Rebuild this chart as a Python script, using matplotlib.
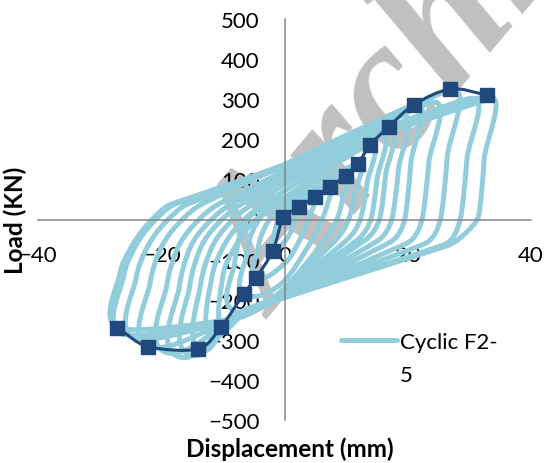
import numpy as np
import matplotlib
matplotlib.use("Agg")
import matplotlib.pyplot as plt
from matplotlib.path import Path
from matplotlib.patches import PathPatch
from matplotlib.lines import Line2D

# backbone (envelope) curve
env_x = [-27.1, -22.2, -14.0, -10.3, -6.6, -4.6, -1.9, -0.2, 2.4, 4.9, 7.4,
         9.9, 11.9, 13.9, 16.9, 21.0, 26.9, 32.8]
env_y = [-270, -317, -323, -268, -185, -145, -78, 5, 31, 56, 82,
         109, 138, 186, 231, 286, 325, 311]

# cyclic test, one row per cycle (peak +, unloading, peak -, reloading)
cyc_x = [0.0,
         2.4, 2.1, 1.5, 0.5, -1.9, -1.7, -1.2, 0.0,
         4.9, 4.5, 3.8, 2.5, 0.0, -4.6, -4.3, -3.5, -1.5,
         7.4, 7.0, 6.1, 4.5, -0.5, -6.6, -6.2, -5.2, -2.8,
         9.9, 9.4, 8.5, 6.6, -1.0, -8.5, -8.1, -7.0, -4.6,
         11.9, 11.4, 10.4, 8.4, -1.0, -6.0, -10.3, -9.9, -8.1, -5.3, -1.3,
         13.9, 13.4, 12.3, 10.2, -1.0, -7.0, -12.2, -11.8, -10.0, -7.2, -3.2,
         15.5, 15.0, 14.0, 11.9, -1.0, -8.0, -14.0, -13.6, -11.8, -9.0, -5.0,
         16.9, 16.4, 15.4, 13.2, -1.0, -8.0, -15.8, -15.4, -13.6, -10.8, -6.8,
         19.0, 18.5, 17.4, 15.2, -1.0, -8.0, -17.5, -17.1, -15.3, -12.5, -8.5,
         21.0, 20.5, 19.5, 17.3, -1.0, -8.0, -19.5, -19.1, -17.3, -14.5, -10.5,
         23.9, 23.4, 22.3, 20.0, -1.0, -8.0, -22.2, -21.8, -20.0, -17.2, -13.2,
         26.9, 26.4, 25.3, 22.8, -1.0, -8.0, -24.5, -24.1, -22.3, -19.5, -15.5,
         30.1, 29.6, 28.5, 26.0, -1.0, -8.0, -26.5, -26.1, -24.3, -21.5, -17.5,
         32.8, 32.4, 31.5, 29.3, 26.3, -1.0, -8.0, -27.1, -26.7, -24.9, -22.1, -18.1,
         33.0]
cyc_y = [0,
         31, 12, -10, -45, -78, -40, -10, 15,
         56, 25, 0, -50, -110, -145, -75, -30, 15,
         82, 40, 0, -50, -160, -185, -92, -30, 20,
         109, 50, 0, -50, -185, -225, -110, -30, 20,
         138, 65, 0, -50, -188, -225, -268, -134, -70, -10, 40,
         186, 90, 0, -50, -190, -235, -290, -145, -70, -10, 40,
         208, 100, 0, -50, -192, -238, -323, -162, -70, -10, 40,
         231, 110, 0, -50, -194, -240, -335, -168, -70, -10, 40,
         258, 125, 0, -52, -195, -242, -340, -170, -70, -10, 40,
         286, 140, 0, -55, -196, -243, -330, -165, -70, -10, 40,
         292, 140, 0, -58, -197, -243, -317, -158, -70, -10, 40,
         322, 155, 0, -60, -198, -245, -295, -148, -70, -10, 40,
         302, 150, 0, -62, -199, -246, -285, -142, -70, -10, 40,
         308, 150, 10, -35, -66, -200, -247, -270, -135, -70, -10, 40,
         300]

x_ticks = [-40, -20, 0, 20, 40]
y_ticks = [-500, -400, -300, -200, -100, 0, 100, 200, 300, 400, 500]

light = "#92cddc"
dark = "#1f497d"

# px per data unit, used so the smoothing doesn't depend on axis scale
SX = 493 / 80
SY = 401 / 1000


def smooth(xs, ys, k=0.35):
    # smoothed line through the points, tangents clamped so it doesn't overshoot
    p = np.column_stack([np.asarray(xs) * SX, np.asarray(ys) * SY])
    n = len(p)
    tang = []
    for i in range(n):
        a = p[max(i - 1, 0)]
        b = p[min(i + 1, n - 1)]
        d = b - a
        nd = np.hypot(*d)
        segs = []
        if i > 0:
            segs.append(np.hypot(*(p[i] - p[i - 1])))
        if i < n - 1:
            segs.append(np.hypot(*(p[i + 1] - p[i])))
        tang.append(d / nd * k * min(segs) if nd > 0 else d)
    verts = [p[0]]
    codes = [Path.MOVETO]
    for i in range(n - 1):
        verts += [p[i] + tang[i], p[i + 1] - tang[i + 1], p[i + 1]]
        codes += [Path.CURVE4] * 3
    verts = np.array(verts) / [SX, SY]
    return Path(verts, codes)


plt.rcParams['font.family'] = ['Lato', 'DejaVu Sans']

fig = plt.figure(figsize=(5.46, 4.64), dpi=100)
ax = fig.add_axes([38 / 546, 43 / 464, 493 / 546, 401 / 464])
ax.set_xlim(-40, 40)
ax.set_ylim(-500, 500)

ax.add_patch(PathPatch(smooth(cyc_x, cyc_y), fill=False, edgecolor=light, lw=3.6,
                       capstyle='round', joinstyle='round', zorder=2))
ax.add_patch(PathPatch(smooth(env_x, env_y), fill=False, edgecolor=dark, lw=2.2,
                       joinstyle='round', zorder=3))
ax.plot(env_x, env_y, linestyle='none', marker='s', markersize=9.5, color=dark, zorder=3)

# watermark
fig.text(276 / 546, 1 - 320 / 464, "Archive", color="#c0c0c0", fontsize=135,
         family="Liberation Serif", weight="bold", style="italic", rotation=50,
         ha='left', va='baseline', rotation_mode='anchor', zorder=1)
ax.set_facecolor('none')
ax.set_zorder(2)

for s in ['top', 'right']:
    ax.spines[s].set_visible(False)
ax.spines['left'].set_position(('data', 0))
ax.spines['bottom'].set_position(('data', 0))
for s in ['left', 'bottom']:
    ax.spines[s].set_color('#868686')
    ax.spines[s].set_linewidth(1.1)

ax.set_xticks(x_ticks)
ax.set_yticks(y_ticks)
ax.tick_params(axis='both', length=0, labelsize=16)
ax.tick_params(axis='x', pad=18)
ax.tick_params(axis='y', pad=18)

ax.set_xlabel("Displacement (mm)", fontsize=17.5, fontweight='bold', va='center')
ax.xaxis.set_label_coords(0.51, -0.07)
ax.set_ylabel("Load (KN)", fontsize=17.5, fontweight='bold', va='center')
ax.yaxis.set_label_coords(-0.047, 0.5)

handles = [Line2D([], [], color=light, lw=3.6, solid_capstyle='round'),
           Line2D([], [], color='none')]
ax.legend(handles, ["Cyclic F2-", "5"], loc='upper left', fontsize=16,
          bbox_to_anchor=(341 / 546, 1 - 333 / 464), bbox_transform=fig.transFigure,
          frameon=False, borderpad=0, borderaxespad=0, handlelength=2.5,
          handletextpad=0.15, labelspacing=0.6)

fig.savefig("out.png", dpi=100)
